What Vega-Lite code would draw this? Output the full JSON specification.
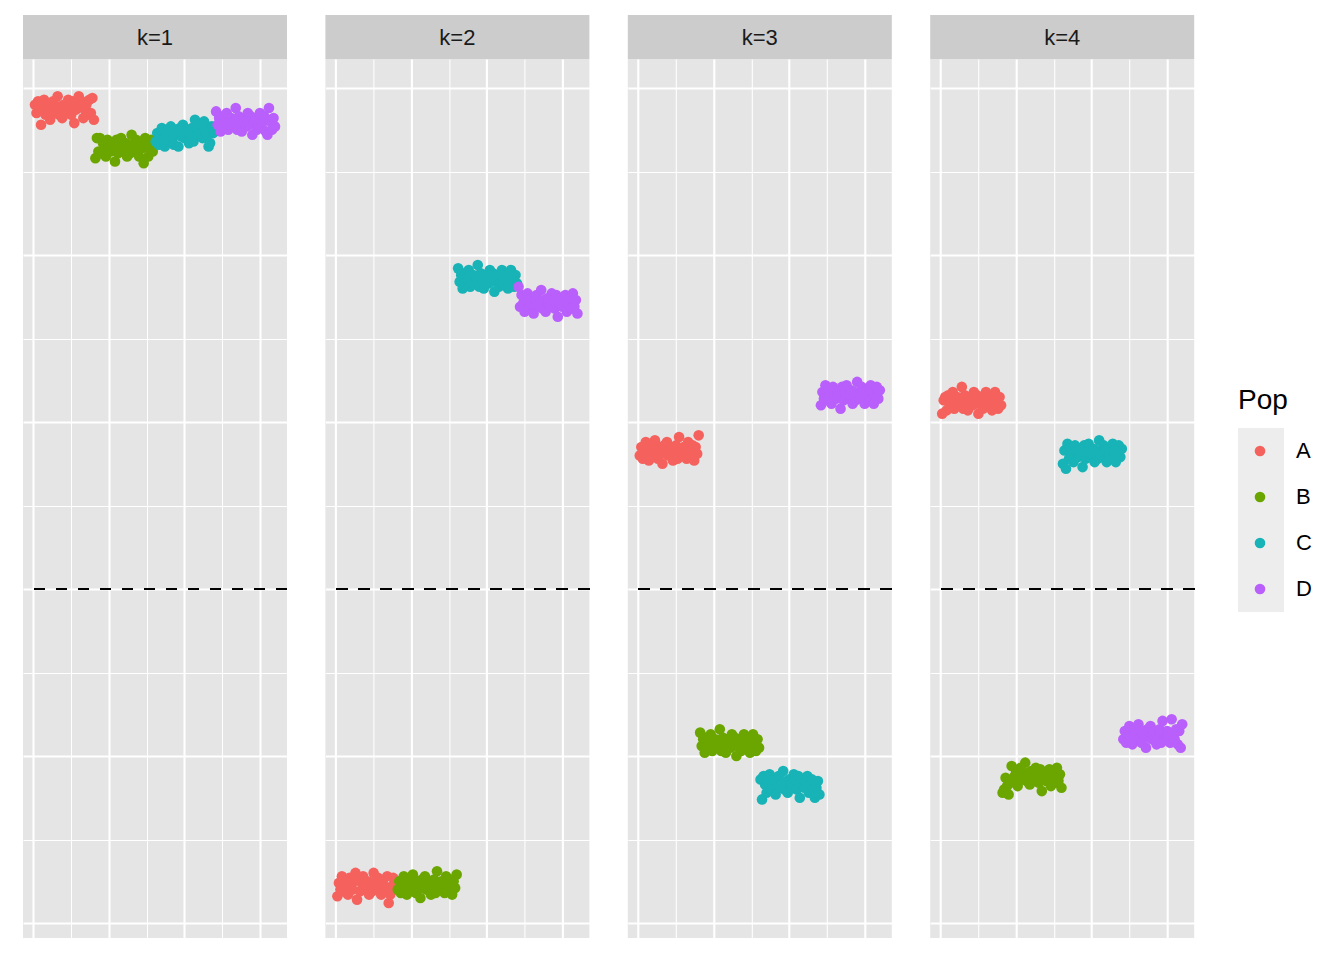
{
  "$schema": "https://vega.github.io/schema/vega-lite/v6.json",
  "padding": {"left": 21, "top": 15, "right": 0, "bottom": 0},
  "background": "white",
  "config": {
    "font": "Liberation Sans",
    "view": {"fill": "#E5E5E5", "stroke": null},
    "axis": {"labels": false, "ticks": false, "domain": false, "title": null, "gridColor": "white", "gridOpacity": 1}
  },
  "resolve": {"scale": {"color": "shared", "shape": "shared"}},
  "spacing": 0,
  "vconcat": [
    {
      "data": {"values": [{"k": "k=1"}, {"k": "k=2"}, {"k": "k=3"}, {"k": "k=4"}]},
      "facet": {"column": {"field": "k", "type": "nominal", "header": {"labels": false, "title": null}}},
      "spacing": {"column": 38.4},
      "bounds": "flush",
      "spec": {
        "width": 264,
        "height": 44,
        "view": {"fill": "#CCCCCC", "stroke": null},
        "mark": {"type": "text", "fontSize": 22, "color": "#1A1A1A", "dy": 1},
        "encoding": {"text": {"field": "k"}}
      }
    },
    {
      "data": {"values": [
{"k":"k=1","p":"A","i":1,"v":2.90},{"k":"k=1","p":"A","i":2,"v":2.85},{"k":"k=1","p":"A","i":3,"v":2.92},{"k":"k=1","p":"A","i":4,"v":2.87},{"k":"k=1","p":"A","i":5,"v":2.78},{"k":"k=1","p":"A","i":6,"v":2.89},{"k":"k=1","p":"A","i":7,"v":2.93},{"k":"k=1","p":"A","i":8,"v":2.84},{"k":"k=1","p":"A","i":9,"v":2.87},{"k":"k=1","p":"A","i":10,"v":2.90},
{"k":"k=1","p":"A","i":11,"v":2.81},{"k":"k=1","p":"A","i":12,"v":2.89},{"k":"k=1","p":"A","i":13,"v":2.92},{"k":"k=1","p":"A","i":14,"v":2.85},{"k":"k=1","p":"A","i":15,"v":2.87},{"k":"k=1","p":"A","i":16,"v":2.95},{"k":"k=1","p":"A","i":17,"v":2.84},{"k":"k=1","p":"A","i":18,"v":2.89},{"k":"k=1","p":"A","i":19,"v":2.82},{"k":"k=1","p":"A","i":20,"v":2.90},
{"k":"k=1","p":"A","i":21,"v":2.87},{"k":"k=1","p":"A","i":22,"v":2.85},{"k":"k=1","p":"A","i":23,"v":2.93},{"k":"k=1","p":"A","i":24,"v":2.89},{"k":"k=1","p":"A","i":25,"v":2.84},{"k":"k=1","p":"A","i":26,"v":2.92},{"k":"k=1","p":"A","i":27,"v":2.79},{"k":"k=1","p":"A","i":28,"v":2.87},{"k":"k=1","p":"A","i":29,"v":2.90},{"k":"k=1","p":"A","i":30,"v":2.95},
{"k":"k=1","p":"A","i":31,"v":2.89},{"k":"k=1","p":"A","i":32,"v":2.92},{"k":"k=1","p":"A","i":33,"v":2.82},{"k":"k=1","p":"A","i":34,"v":2.87},{"k":"k=1","p":"A","i":35,"v":2.90},{"k":"k=1","p":"A","i":36,"v":2.84},{"k":"k=1","p":"A","i":37,"v":2.93},{"k":"k=1","p":"A","i":38,"v":2.85},{"k":"k=1","p":"A","i":39,"v":2.94},{"k":"k=1","p":"A","i":40,"v":2.81},
{"k":"k=1","p":"B","i":41,"v":2.58},{"k":"k=1","p":"B","i":42,"v":2.70},{"k":"k=1","p":"B","i":43,"v":2.62},{"k":"k=1","p":"B","i":44,"v":2.70},{"k":"k=1","p":"B","i":45,"v":2.61},{"k":"k=1","p":"B","i":46,"v":2.67},{"k":"k=1","p":"B","i":47,"v":2.64},{"k":"k=1","p":"B","i":48,"v":2.59},{"k":"k=1","p":"B","i":49,"v":2.69},{"k":"k=1","p":"B","i":50,"v":2.66},
{"k":"k=1","p":"B","i":51,"v":2.62},{"k":"k=1","p":"B","i":52,"v":2.67},{"k":"k=1","p":"B","i":53,"v":2.64},{"k":"k=1","p":"B","i":54,"v":2.56},{"k":"k=1","p":"B","i":55,"v":2.69},{"k":"k=1","p":"B","i":56,"v":2.61},{"k":"k=1","p":"B","i":57,"v":2.66},{"k":"k=1","p":"B","i":58,"v":2.70},{"k":"k=1","p":"B","i":59,"v":2.62},{"k":"k=1","p":"B","i":60,"v":2.64},
{"k":"k=1","p":"B","i":61,"v":2.67},{"k":"k=1","p":"B","i":62,"v":2.59},{"k":"k=1","p":"B","i":63,"v":2.66},{"k":"k=1","p":"B","i":64,"v":2.61},{"k":"k=1","p":"B","i":65,"v":2.72},{"k":"k=1","p":"B","i":66,"v":2.64},{"k":"k=1","p":"B","i":67,"v":2.62},{"k":"k=1","p":"B","i":68,"v":2.69},{"k":"k=1","p":"B","i":69,"v":2.66},{"k":"k=1","p":"B","i":70,"v":2.59},
{"k":"k=1","p":"B","i":71,"v":2.67},{"k":"k=1","p":"B","i":72,"v":2.64},{"k":"k=1","p":"B","i":73,"v":2.55},{"k":"k=1","p":"B","i":74,"v":2.70},{"k":"k=1","p":"B","i":75,"v":2.66},{"k":"k=1","p":"B","i":76,"v":2.59},{"k":"k=1","p":"B","i":77,"v":2.64},{"k":"k=1","p":"B","i":78,"v":2.69},{"k":"k=1","p":"B","i":79,"v":2.62},{"k":"k=1","p":"B","i":80,"v":2.67},
{"k":"k=1","p":"C","i":81,"v":2.68},{"k":"k=1","p":"C","i":82,"v":2.73},{"k":"k=1","p":"C","i":83,"v":2.66},{"k":"k=1","p":"C","i":84,"v":2.71},{"k":"k=1","p":"C","i":85,"v":2.76},{"k":"k=1","p":"C","i":86,"v":2.69},{"k":"k=1","p":"C","i":87,"v":2.65},{"k":"k=1","p":"C","i":88,"v":2.74},{"k":"k=1","p":"C","i":89,"v":2.71},{"k":"k=1","p":"C","i":90,"v":2.68},
{"k":"k=1","p":"C","i":91,"v":2.77},{"k":"k=1","p":"C","i":92,"v":2.69},{"k":"k=1","p":"C","i":93,"v":2.66},{"k":"k=1","p":"C","i":94,"v":2.75},{"k":"k=1","p":"C","i":95,"v":2.73},{"k":"k=1","p":"C","i":96,"v":2.65},{"k":"k=1","p":"C","i":97,"v":2.76},{"k":"k=1","p":"C","i":98,"v":2.71},{"k":"k=1","p":"C","i":99,"v":2.78},{"k":"k=1","p":"C","i":100,"v":2.70},
{"k":"k=1","p":"C","i":101,"v":2.73},{"k":"k=1","p":"C","i":102,"v":2.75},{"k":"k=1","p":"C","i":103,"v":2.67},{"k":"k=1","p":"C","i":104,"v":2.71},{"k":"k=1","p":"C","i":105,"v":2.76},{"k":"k=1","p":"C","i":106,"v":2.68},{"k":"k=1","p":"C","i":107,"v":2.81},{"k":"k=1","p":"C","i":108,"v":2.75},{"k":"k=1","p":"C","i":109,"v":2.72},{"k":"k=1","p":"C","i":110,"v":2.77},
{"k":"k=1","p":"C","i":111,"v":2.73},{"k":"k=1","p":"C","i":112,"v":2.70},{"k":"k=1","p":"C","i":113,"v":2.80},{"k":"k=1","p":"C","i":114,"v":2.75},{"k":"k=1","p":"C","i":115,"v":2.72},{"k":"k=1","p":"C","i":116,"v":2.65},{"k":"k=1","p":"C","i":117,"v":2.67},{"k":"k=1","p":"C","i":118,"v":2.77},{"k":"k=1","p":"C","i":119,"v":2.73},{"k":"k=1","p":"C","i":120,"v":2.74},
{"k":"k=1","p":"D","i":121,"v":2.86},{"k":"k=1","p":"D","i":122,"v":2.78},{"k":"k=1","p":"D","i":123,"v":2.82},{"k":"k=1","p":"D","i":124,"v":2.74},{"k":"k=1","p":"D","i":125,"v":2.83},{"k":"k=1","p":"D","i":126,"v":2.77},{"k":"k=1","p":"D","i":127,"v":2.80},{"k":"k=1","p":"D","i":128,"v":2.85},{"k":"k=1","p":"D","i":129,"v":2.75},{"k":"k=1","p":"D","i":130,"v":2.78},
{"k":"k=1","p":"D","i":131,"v":2.82},{"k":"k=1","p":"D","i":132,"v":2.77},{"k":"k=1","p":"D","i":133,"v":2.80},{"k":"k=1","p":"D","i":134,"v":2.88},{"k":"k=1","p":"D","i":135,"v":2.75},{"k":"k=1","p":"D","i":136,"v":2.83},{"k":"k=1","p":"D","i":137,"v":2.78},{"k":"k=1","p":"D","i":138,"v":2.74},{"k":"k=1","p":"D","i":139,"v":2.82},{"k":"k=1","p":"D","i":140,"v":2.80},
{"k":"k=1","p":"D","i":141,"v":2.77},{"k":"k=1","p":"D","i":142,"v":2.85},{"k":"k=1","p":"D","i":143,"v":2.78},{"k":"k=1","p":"D","i":144,"v":2.83},{"k":"k=1","p":"D","i":145,"v":2.72},{"k":"k=1","p":"D","i":146,"v":2.80},{"k":"k=1","p":"D","i":147,"v":2.82},{"k":"k=1","p":"D","i":148,"v":2.75},{"k":"k=1","p":"D","i":149,"v":2.78},{"k":"k=1","p":"D","i":150,"v":2.85},
{"k":"k=1","p":"D","i":151,"v":2.77},{"k":"k=1","p":"D","i":152,"v":2.80},{"k":"k=1","p":"D","i":153,"v":2.83},{"k":"k=1","p":"D","i":154,"v":2.74},{"k":"k=1","p":"D","i":155,"v":2.72},{"k":"k=1","p":"D","i":156,"v":2.88},{"k":"k=1","p":"D","i":157,"v":2.80},{"k":"k=1","p":"D","i":158,"v":2.75},{"k":"k=1","p":"D","i":159,"v":2.82},{"k":"k=1","p":"D","i":160,"v":2.77},
{"k":"k=2","p":"A","i":1,"v":-1.84},{"k":"k=2","p":"A","i":2,"v":-1.76},{"k":"k=2","p":"A","i":3,"v":-1.80},{"k":"k=2","p":"A","i":4,"v":-1.72},{"k":"k=2","p":"A","i":5,"v":-1.81},{"k":"k=2","p":"A","i":6,"v":-1.75},{"k":"k=2","p":"A","i":7,"v":-1.78},{"k":"k=2","p":"A","i":8,"v":-1.83},{"k":"k=2","p":"A","i":9,"v":-1.73},{"k":"k=2","p":"A","i":10,"v":-1.76},
{"k":"k=2","p":"A","i":11,"v":-1.80},{"k":"k=2","p":"A","i":12,"v":-1.75},{"k":"k=2","p":"A","i":13,"v":-1.70},{"k":"k=2","p":"A","i":14,"v":-1.86},{"k":"k=2","p":"A","i":15,"v":-1.73},{"k":"k=2","p":"A","i":16,"v":-1.81},{"k":"k=2","p":"A","i":17,"v":-1.76},{"k":"k=2","p":"A","i":18,"v":-1.72},{"k":"k=2","p":"A","i":19,"v":-1.80},{"k":"k=2","p":"A","i":20,"v":-1.78},
{"k":"k=2","p":"A","i":21,"v":-1.75},{"k":"k=2","p":"A","i":22,"v":-1.83},{"k":"k=2","p":"A","i":23,"v":-1.76},{"k":"k=2","p":"A","i":24,"v":-1.81},{"k":"k=2","p":"A","i":25,"v":-1.70},{"k":"k=2","p":"A","i":26,"v":-1.78},{"k":"k=2","p":"A","i":27,"v":-1.80},{"k":"k=2","p":"A","i":28,"v":-1.73},{"k":"k=2","p":"A","i":29,"v":-1.76},{"k":"k=2","p":"A","i":30,"v":-1.83},
{"k":"k=2","p":"A","i":31,"v":-1.75},{"k":"k=2","p":"A","i":32,"v":-1.78},{"k":"k=2","p":"A","i":33,"v":-1.81},{"k":"k=2","p":"A","i":34,"v":-1.72},{"k":"k=2","p":"A","i":35,"v":-1.88},{"k":"k=2","p":"A","i":36,"v":-1.83},{"k":"k=2","p":"A","i":37,"v":-1.78},{"k":"k=2","p":"A","i":38,"v":-1.73},{"k":"k=2","p":"A","i":39,"v":-1.80},{"k":"k=2","p":"A","i":40,"v":-1.75},
{"k":"k=2","p":"B","i":41,"v":-1.80},{"k":"k=2","p":"B","i":42,"v":-1.75},{"k":"k=2","p":"B","i":43,"v":-1.82},{"k":"k=2","p":"B","i":44,"v":-1.77},{"k":"k=2","p":"B","i":45,"v":-1.72},{"k":"k=2","p":"B","i":46,"v":-1.79},{"k":"k=2","p":"B","i":47,"v":-1.83},{"k":"k=2","p":"B","i":48,"v":-1.74},{"k":"k=2","p":"B","i":49,"v":-1.77},{"k":"k=2","p":"B","i":50,"v":-1.80},
{"k":"k=2","p":"B","i":51,"v":-1.71},{"k":"k=2","p":"B","i":52,"v":-1.79},{"k":"k=2","p":"B","i":53,"v":-1.82},{"k":"k=2","p":"B","i":54,"v":-1.75},{"k":"k=2","p":"B","i":55,"v":-1.77},{"k":"k=2","p":"B","i":56,"v":-1.85},{"k":"k=2","p":"B","i":57,"v":-1.74},{"k":"k=2","p":"B","i":58,"v":-1.79},{"k":"k=2","p":"B","i":59,"v":-1.72},{"k":"k=2","p":"B","i":60,"v":-1.80},
{"k":"k=2","p":"B","i":61,"v":-1.77},{"k":"k=2","p":"B","i":62,"v":-1.75},{"k":"k=2","p":"B","i":63,"v":-1.83},{"k":"k=2","p":"B","i":64,"v":-1.79},{"k":"k=2","p":"B","i":65,"v":-1.74},{"k":"k=2","p":"B","i":66,"v":-1.82},{"k":"k=2","p":"B","i":67,"v":-1.69},{"k":"k=2","p":"B","i":68,"v":-1.77},{"k":"k=2","p":"B","i":69,"v":-1.80},{"k":"k=2","p":"B","i":70,"v":-1.75},
{"k":"k=2","p":"B","i":71,"v":-1.79},{"k":"k=2","p":"B","i":72,"v":-1.82},{"k":"k=2","p":"B","i":73,"v":-1.72},{"k":"k=2","p":"B","i":74,"v":-1.77},{"k":"k=2","p":"B","i":75,"v":-1.80},{"k":"k=2","p":"B","i":76,"v":-1.74},{"k":"k=2","p":"B","i":77,"v":-1.83},{"k":"k=2","p":"B","i":78,"v":-1.75},{"k":"k=2","p":"B","i":79,"v":-1.79},{"k":"k=2","p":"B","i":80,"v":-1.71},
{"k":"k=2","p":"C","i":81,"v":1.92},{"k":"k=2","p":"C","i":82,"v":1.84},{"k":"k=2","p":"C","i":83,"v":1.88},{"k":"k=2","p":"C","i":84,"v":1.80},{"k":"k=2","p":"C","i":85,"v":1.89},{"k":"k=2","p":"C","i":86,"v":1.83},{"k":"k=2","p":"C","i":87,"v":1.86},{"k":"k=2","p":"C","i":88,"v":1.91},{"k":"k=2","p":"C","i":89,"v":1.81},{"k":"k=2","p":"C","i":90,"v":1.84},
{"k":"k=2","p":"C","i":91,"v":1.88},{"k":"k=2","p":"C","i":92,"v":1.83},{"k":"k=2","p":"C","i":93,"v":1.86},{"k":"k=2","p":"C","i":94,"v":1.94},{"k":"k=2","p":"C","i":95,"v":1.81},{"k":"k=2","p":"C","i":96,"v":1.89},{"k":"k=2","p":"C","i":97,"v":1.84},{"k":"k=2","p":"C","i":98,"v":1.80},{"k":"k=2","p":"C","i":99,"v":1.88},{"k":"k=2","p":"C","i":100,"v":1.86},
{"k":"k=2","p":"C","i":101,"v":1.83},{"k":"k=2","p":"C","i":102,"v":1.91},{"k":"k=2","p":"C","i":103,"v":1.84},{"k":"k=2","p":"C","i":104,"v":1.89},{"k":"k=2","p":"C","i":105,"v":1.78},{"k":"k=2","p":"C","i":106,"v":1.86},{"k":"k=2","p":"C","i":107,"v":1.88},{"k":"k=2","p":"C","i":108,"v":1.81},{"k":"k=2","p":"C","i":109,"v":1.84},{"k":"k=2","p":"C","i":110,"v":1.91},
{"k":"k=2","p":"C","i":111,"v":1.83},{"k":"k=2","p":"C","i":112,"v":1.86},{"k":"k=2","p":"C","i":113,"v":1.89},{"k":"k=2","p":"C","i":114,"v":1.80},{"k":"k=2","p":"C","i":115,"v":1.84},{"k":"k=2","p":"C","i":116,"v":1.91},{"k":"k=2","p":"C","i":117,"v":1.86},{"k":"k=2","p":"C","i":118,"v":1.81},{"k":"k=2","p":"C","i":119,"v":1.88},{"k":"k=2","p":"C","i":120,"v":1.83},
{"k":"k=2","p":"D","i":121,"v":1.81},{"k":"k=2","p":"D","i":122,"v":1.69},{"k":"k=2","p":"D","i":123,"v":1.76},{"k":"k=2","p":"D","i":124,"v":1.71},{"k":"k=2","p":"D","i":125,"v":1.66},{"k":"k=2","p":"D","i":126,"v":1.73},{"k":"k=2","p":"D","i":127,"v":1.77},{"k":"k=2","p":"D","i":128,"v":1.68},{"k":"k=2","p":"D","i":129,"v":1.71},{"k":"k=2","p":"D","i":130,"v":1.74},
{"k":"k=2","p":"D","i":131,"v":1.65},{"k":"k=2","p":"D","i":132,"v":1.73},{"k":"k=2","p":"D","i":133,"v":1.76},{"k":"k=2","p":"D","i":134,"v":1.69},{"k":"k=2","p":"D","i":135,"v":1.71},{"k":"k=2","p":"D","i":136,"v":1.79},{"k":"k=2","p":"D","i":137,"v":1.68},{"k":"k=2","p":"D","i":138,"v":1.73},{"k":"k=2","p":"D","i":139,"v":1.66},{"k":"k=2","p":"D","i":140,"v":1.74},
{"k":"k=2","p":"D","i":141,"v":1.71},{"k":"k=2","p":"D","i":142,"v":1.69},{"k":"k=2","p":"D","i":143,"v":1.77},{"k":"k=2","p":"D","i":144,"v":1.73},{"k":"k=2","p":"D","i":145,"v":1.68},{"k":"k=2","p":"D","i":146,"v":1.76},{"k":"k=2","p":"D","i":147,"v":1.63},{"k":"k=2","p":"D","i":148,"v":1.71},{"k":"k=2","p":"D","i":149,"v":1.74},{"k":"k=2","p":"D","i":150,"v":1.69},
{"k":"k=2","p":"D","i":151,"v":1.73},{"k":"k=2","p":"D","i":152,"v":1.76},{"k":"k=2","p":"D","i":153,"v":1.66},{"k":"k=2","p":"D","i":154,"v":1.71},{"k":"k=2","p":"D","i":155,"v":1.74},{"k":"k=2","p":"D","i":156,"v":1.68},{"k":"k=2","p":"D","i":157,"v":1.77},{"k":"k=2","p":"D","i":158,"v":1.69},{"k":"k=2","p":"D","i":159,"v":1.73},{"k":"k=2","p":"D","i":160,"v":1.65},
{"k":"k=3","p":"A","i":1,"v":0.80},{"k":"k=3","p":"A","i":2,"v":0.85},{"k":"k=3","p":"A","i":3,"v":0.78},{"k":"k=3","p":"A","i":4,"v":0.83},{"k":"k=3","p":"A","i":5,"v":0.88},{"k":"k=3","p":"A","i":6,"v":0.81},{"k":"k=3","p":"A","i":7,"v":0.77},{"k":"k=3","p":"A","i":8,"v":0.86},{"k":"k=3","p":"A","i":9,"v":0.83},{"k":"k=3","p":"A","i":10,"v":0.80},
{"k":"k=3","p":"A","i":11,"v":0.89},{"k":"k=3","p":"A","i":12,"v":0.81},{"k":"k=3","p":"A","i":13,"v":0.78},{"k":"k=3","p":"A","i":14,"v":0.85},{"k":"k=3","p":"A","i":15,"v":0.83},{"k":"k=3","p":"A","i":16,"v":0.75},{"k":"k=3","p":"A","i":17,"v":0.86},{"k":"k=3","p":"A","i":18,"v":0.81},{"k":"k=3","p":"A","i":19,"v":0.88},{"k":"k=3","p":"A","i":20,"v":0.80},
{"k":"k=3","p":"A","i":21,"v":0.83},{"k":"k=3","p":"A","i":22,"v":0.85},{"k":"k=3","p":"A","i":23,"v":0.77},{"k":"k=3","p":"A","i":24,"v":0.81},{"k":"k=3","p":"A","i":25,"v":0.86},{"k":"k=3","p":"A","i":26,"v":0.78},{"k":"k=3","p":"A","i":27,"v":0.91},{"k":"k=3","p":"A","i":28,"v":0.83},{"k":"k=3","p":"A","i":29,"v":0.80},{"k":"k=3","p":"A","i":30,"v":0.85},
{"k":"k=3","p":"A","i":31,"v":0.81},{"k":"k=3","p":"A","i":32,"v":0.78},{"k":"k=3","p":"A","i":33,"v":0.88},{"k":"k=3","p":"A","i":34,"v":0.83},{"k":"k=3","p":"A","i":35,"v":0.80},{"k":"k=3","p":"A","i":36,"v":0.86},{"k":"k=3","p":"A","i":37,"v":0.77},{"k":"k=3","p":"A","i":38,"v":0.85},{"k":"k=3","p":"A","i":39,"v":0.81},{"k":"k=3","p":"A","i":40,"v":0.92},
{"k":"k=3","p":"B","i":41,"v":-0.86},{"k":"k=3","p":"B","i":42,"v":-0.94},{"k":"k=3","p":"B","i":43,"v":-0.90},{"k":"k=3","p":"B","i":44,"v":-0.98},{"k":"k=3","p":"B","i":45,"v":-0.89},{"k":"k=3","p":"B","i":46,"v":-0.95},{"k":"k=3","p":"B","i":47,"v":-0.92},{"k":"k=3","p":"B","i":48,"v":-0.87},{"k":"k=3","p":"B","i":49,"v":-0.97},{"k":"k=3","p":"B","i":50,"v":-0.94},
{"k":"k=3","p":"B","i":51,"v":-0.90},{"k":"k=3","p":"B","i":52,"v":-0.95},{"k":"k=3","p":"B","i":53,"v":-0.92},{"k":"k=3","p":"B","i":54,"v":-0.84},{"k":"k=3","p":"B","i":55,"v":-0.97},{"k":"k=3","p":"B","i":56,"v":-0.89},{"k":"k=3","p":"B","i":57,"v":-0.94},{"k":"k=3","p":"B","i":58,"v":-0.98},{"k":"k=3","p":"B","i":59,"v":-0.90},{"k":"k=3","p":"B","i":60,"v":-0.92},
{"k":"k=3","p":"B","i":61,"v":-0.95},{"k":"k=3","p":"B","i":62,"v":-0.87},{"k":"k=3","p":"B","i":63,"v":-0.94},{"k":"k=3","p":"B","i":64,"v":-0.89},{"k":"k=3","p":"B","i":65,"v":-1.00},{"k":"k=3","p":"B","i":66,"v":-0.92},{"k":"k=3","p":"B","i":67,"v":-0.90},{"k":"k=3","p":"B","i":68,"v":-0.97},{"k":"k=3","p":"B","i":69,"v":-0.94},{"k":"k=3","p":"B","i":70,"v":-0.87},
{"k":"k=3","p":"B","i":71,"v":-0.95},{"k":"k=3","p":"B","i":72,"v":-0.92},{"k":"k=3","p":"B","i":73,"v":-0.89},{"k":"k=3","p":"B","i":74,"v":-0.98},{"k":"k=3","p":"B","i":75,"v":-0.94},{"k":"k=3","p":"B","i":76,"v":-0.87},{"k":"k=3","p":"B","i":77,"v":-0.92},{"k":"k=3","p":"B","i":78,"v":-0.97},{"k":"k=3","p":"B","i":79,"v":-0.90},{"k":"k=3","p":"B","i":80,"v":-0.95},
{"k":"k=3","p":"C","i":81,"v":-1.14},{"k":"k=3","p":"C","i":82,"v":-1.26},{"k":"k=3","p":"C","i":83,"v":-1.12},{"k":"k=3","p":"C","i":84,"v":-1.17},{"k":"k=3","p":"C","i":85,"v":-1.22},{"k":"k=3","p":"C","i":86,"v":-1.15},{"k":"k=3","p":"C","i":87,"v":-1.11},{"k":"k=3","p":"C","i":88,"v":-1.20},{"k":"k=3","p":"C","i":89,"v":-1.17},{"k":"k=3","p":"C","i":90,"v":-1.14},
{"k":"k=3","p":"C","i":91,"v":-1.23},{"k":"k=3","p":"C","i":92,"v":-1.15},{"k":"k=3","p":"C","i":93,"v":-1.12},{"k":"k=3","p":"C","i":94,"v":-1.19},{"k":"k=3","p":"C","i":95,"v":-1.17},{"k":"k=3","p":"C","i":96,"v":-1.09},{"k":"k=3","p":"C","i":97,"v":-1.20},{"k":"k=3","p":"C","i":98,"v":-1.15},{"k":"k=3","p":"C","i":99,"v":-1.22},{"k":"k=3","p":"C","i":100,"v":-1.14},
{"k":"k=3","p":"C","i":101,"v":-1.17},{"k":"k=3","p":"C","i":102,"v":-1.19},{"k":"k=3","p":"C","i":103,"v":-1.11},{"k":"k=3","p":"C","i":104,"v":-1.15},{"k":"k=3","p":"C","i":105,"v":-1.20},{"k":"k=3","p":"C","i":106,"v":-1.12},{"k":"k=3","p":"C","i":107,"v":-1.25},{"k":"k=3","p":"C","i":108,"v":-1.17},{"k":"k=3","p":"C","i":109,"v":-1.14},{"k":"k=3","p":"C","i":110,"v":-1.19},
{"k":"k=3","p":"C","i":111,"v":-1.15},{"k":"k=3","p":"C","i":112,"v":-1.12},{"k":"k=3","p":"C","i":113,"v":-1.22},{"k":"k=3","p":"C","i":114,"v":-1.17},{"k":"k=3","p":"C","i":115,"v":-1.14},{"k":"k=3","p":"C","i":116,"v":-1.20},{"k":"k=3","p":"C","i":117,"v":-1.25},{"k":"k=3","p":"C","i":118,"v":-1.19},{"k":"k=3","p":"C","i":119,"v":-1.15},{"k":"k=3","p":"C","i":120,"v":-1.23},
{"k":"k=3","p":"D","i":121,"v":1.10},{"k":"k=3","p":"D","i":122,"v":1.18},{"k":"k=3","p":"D","i":123,"v":1.14},{"k":"k=3","p":"D","i":124,"v":1.22},{"k":"k=3","p":"D","i":125,"v":1.13},{"k":"k=3","p":"D","i":126,"v":1.19},{"k":"k=3","p":"D","i":127,"v":1.16},{"k":"k=3","p":"D","i":128,"v":1.11},{"k":"k=3","p":"D","i":129,"v":1.21},{"k":"k=3","p":"D","i":130,"v":1.18},
{"k":"k=3","p":"D","i":131,"v":1.14},{"k":"k=3","p":"D","i":132,"v":1.19},{"k":"k=3","p":"D","i":133,"v":1.16},{"k":"k=3","p":"D","i":134,"v":1.08},{"k":"k=3","p":"D","i":135,"v":1.21},{"k":"k=3","p":"D","i":136,"v":1.13},{"k":"k=3","p":"D","i":137,"v":1.18},{"k":"k=3","p":"D","i":138,"v":1.22},{"k":"k=3","p":"D","i":139,"v":1.14},{"k":"k=3","p":"D","i":140,"v":1.16},
{"k":"k=3","p":"D","i":141,"v":1.19},{"k":"k=3","p":"D","i":142,"v":1.11},{"k":"k=3","p":"D","i":143,"v":1.18},{"k":"k=3","p":"D","i":144,"v":1.13},{"k":"k=3","p":"D","i":145,"v":1.24},{"k":"k=3","p":"D","i":146,"v":1.16},{"k":"k=3","p":"D","i":147,"v":1.14},{"k":"k=3","p":"D","i":148,"v":1.21},{"k":"k=3","p":"D","i":149,"v":1.18},{"k":"k=3","p":"D","i":150,"v":1.11},
{"k":"k=3","p":"D","i":151,"v":1.19},{"k":"k=3","p":"D","i":152,"v":1.16},{"k":"k=3","p":"D","i":153,"v":1.13},{"k":"k=3","p":"D","i":154,"v":1.22},{"k":"k=3","p":"D","i":155,"v":1.18},{"k":"k=3","p":"D","i":156,"v":1.11},{"k":"k=3","p":"D","i":157,"v":1.16},{"k":"k=3","p":"D","i":158,"v":1.21},{"k":"k=3","p":"D","i":159,"v":1.14},{"k":"k=3","p":"D","i":160,"v":1.19},
{"k":"k=4","p":"A","i":1,"v":1.05},{"k":"k=4","p":"A","i":2,"v":1.13},{"k":"k=4","p":"A","i":3,"v":1.15},{"k":"k=4","p":"A","i":4,"v":1.07},{"k":"k=4","p":"A","i":5,"v":1.16},{"k":"k=4","p":"A","i":6,"v":1.10},{"k":"k=4","p":"A","i":7,"v":1.13},{"k":"k=4","p":"A","i":8,"v":1.18},{"k":"k=4","p":"A","i":9,"v":1.08},{"k":"k=4","p":"A","i":10,"v":1.11},
{"k":"k=4","p":"A","i":11,"v":1.15},{"k":"k=4","p":"A","i":12,"v":1.10},{"k":"k=4","p":"A","i":13,"v":1.13},{"k":"k=4","p":"A","i":14,"v":1.21},{"k":"k=4","p":"A","i":15,"v":1.08},{"k":"k=4","p":"A","i":16,"v":1.16},{"k":"k=4","p":"A","i":17,"v":1.11},{"k":"k=4","p":"A","i":18,"v":1.07},{"k":"k=4","p":"A","i":19,"v":1.15},{"k":"k=4","p":"A","i":20,"v":1.13},
{"k":"k=4","p":"A","i":21,"v":1.10},{"k":"k=4","p":"A","i":22,"v":1.18},{"k":"k=4","p":"A","i":23,"v":1.11},{"k":"k=4","p":"A","i":24,"v":1.16},{"k":"k=4","p":"A","i":25,"v":1.05},{"k":"k=4","p":"A","i":26,"v":1.13},{"k":"k=4","p":"A","i":27,"v":1.15},{"k":"k=4","p":"A","i":28,"v":1.08},{"k":"k=4","p":"A","i":29,"v":1.11},{"k":"k=4","p":"A","i":30,"v":1.18},
{"k":"k=4","p":"A","i":31,"v":1.10},{"k":"k=4","p":"A","i":32,"v":1.13},{"k":"k=4","p":"A","i":33,"v":1.16},{"k":"k=4","p":"A","i":34,"v":1.07},{"k":"k=4","p":"A","i":35,"v":1.11},{"k":"k=4","p":"A","i":36,"v":1.18},{"k":"k=4","p":"A","i":37,"v":1.13},{"k":"k=4","p":"A","i":38,"v":1.08},{"k":"k=4","p":"A","i":39,"v":1.15},{"k":"k=4","p":"A","i":40,"v":1.10},
{"k":"k=4","p":"B","i":41,"v":-1.22},{"k":"k=4","p":"B","i":42,"v":-1.20},{"k":"k=4","p":"B","i":43,"v":-1.13},{"k":"k=4","p":"B","i":44,"v":-1.18},{"k":"k=4","p":"B","i":45,"v":-1.23},{"k":"k=4","p":"B","i":46,"v":-1.16},{"k":"k=4","p":"B","i":47,"v":-1.06},{"k":"k=4","p":"B","i":48,"v":-1.15},{"k":"k=4","p":"B","i":49,"v":-1.12},{"k":"k=4","p":"B","i":50,"v":-1.09},
{"k":"k=4","p":"B","i":51,"v":-1.18},{"k":"k=4","p":"B","i":52,"v":-1.10},{"k":"k=4","p":"B","i":53,"v":-1.07},{"k":"k=4","p":"B","i":54,"v":-1.14},{"k":"k=4","p":"B","i":55,"v":-1.12},{"k":"k=4","p":"B","i":56,"v":-1.04},{"k":"k=4","p":"B","i":57,"v":-1.15},{"k":"k=4","p":"B","i":58,"v":-1.10},{"k":"k=4","p":"B","i":59,"v":-1.17},{"k":"k=4","p":"B","i":60,"v":-1.09},
{"k":"k=4","p":"B","i":61,"v":-1.13},{"k":"k=4","p":"B","i":62,"v":-1.15},{"k":"k=4","p":"B","i":63,"v":-1.07},{"k":"k=4","p":"B","i":64,"v":-1.11},{"k":"k=4","p":"B","i":65,"v":-1.16},{"k":"k=4","p":"B","i":66,"v":-1.08},{"k":"k=4","p":"B","i":67,"v":-1.21},{"k":"k=4","p":"B","i":68,"v":-1.13},{"k":"k=4","p":"B","i":69,"v":-1.10},{"k":"k=4","p":"B","i":70,"v":-1.15},
{"k":"k=4","p":"B","i":71,"v":-1.11},{"k":"k=4","p":"B","i":72,"v":-1.08},{"k":"k=4","p":"B","i":73,"v":-1.18},{"k":"k=4","p":"B","i":74,"v":-1.13},{"k":"k=4","p":"B","i":75,"v":-1.10},{"k":"k=4","p":"B","i":76,"v":-1.16},{"k":"k=4","p":"B","i":77,"v":-1.07},{"k":"k=4","p":"B","i":78,"v":-1.15},{"k":"k=4","p":"B","i":79,"v":-1.11},{"k":"k=4","p":"B","i":80,"v":-1.19},
{"k":"k=4","p":"C","i":81,"v":0.75},{"k":"k=4","p":"C","i":82,"v":0.83},{"k":"k=4","p":"C","i":83,"v":0.72},{"k":"k=4","p":"C","i":84,"v":0.87},{"k":"k=4","p":"C","i":85,"v":0.78},{"k":"k=4","p":"C","i":86,"v":0.84},{"k":"k=4","p":"C","i":87,"v":0.81},{"k":"k=4","p":"C","i":88,"v":0.76},{"k":"k=4","p":"C","i":89,"v":0.86},{"k":"k=4","p":"C","i":90,"v":0.83},
{"k":"k=4","p":"C","i":91,"v":0.79},{"k":"k=4","p":"C","i":92,"v":0.84},{"k":"k=4","p":"C","i":93,"v":0.81},{"k":"k=4","p":"C","i":94,"v":0.73},{"k":"k=4","p":"C","i":95,"v":0.86},{"k":"k=4","p":"C","i":96,"v":0.78},{"k":"k=4","p":"C","i":97,"v":0.83},{"k":"k=4","p":"C","i":98,"v":0.87},{"k":"k=4","p":"C","i":99,"v":0.79},{"k":"k=4","p":"C","i":100,"v":0.81},
{"k":"k=4","p":"C","i":101,"v":0.84},{"k":"k=4","p":"C","i":102,"v":0.76},{"k":"k=4","p":"C","i":103,"v":0.83},{"k":"k=4","p":"C","i":104,"v":0.78},{"k":"k=4","p":"C","i":105,"v":0.89},{"k":"k=4","p":"C","i":106,"v":0.81},{"k":"k=4","p":"C","i":107,"v":0.79},{"k":"k=4","p":"C","i":108,"v":0.86},{"k":"k=4","p":"C","i":109,"v":0.83},{"k":"k=4","p":"C","i":110,"v":0.76},
{"k":"k=4","p":"C","i":111,"v":0.84},{"k":"k=4","p":"C","i":112,"v":0.81},{"k":"k=4","p":"C","i":113,"v":0.78},{"k":"k=4","p":"C","i":114,"v":0.87},{"k":"k=4","p":"C","i":115,"v":0.83},{"k":"k=4","p":"C","i":116,"v":0.76},{"k":"k=4","p":"C","i":117,"v":0.81},{"k":"k=4","p":"C","i":118,"v":0.86},{"k":"k=4","p":"C","i":119,"v":0.79},{"k":"k=4","p":"C","i":120,"v":0.84},
{"k":"k=4","p":"D","i":121,"v":-0.90},{"k":"k=4","p":"D","i":122,"v":-0.85},{"k":"k=4","p":"D","i":123,"v":-0.92},{"k":"k=4","p":"D","i":124,"v":-0.87},{"k":"k=4","p":"D","i":125,"v":-0.82},{"k":"k=4","p":"D","i":126,"v":-0.89},{"k":"k=4","p":"D","i":127,"v":-0.93},{"k":"k=4","p":"D","i":128,"v":-0.84},{"k":"k=4","p":"D","i":129,"v":-0.87},{"k":"k=4","p":"D","i":130,"v":-0.90},
{"k":"k=4","p":"D","i":131,"v":-0.81},{"k":"k=4","p":"D","i":132,"v":-0.89},{"k":"k=4","p":"D","i":133,"v":-0.92},{"k":"k=4","p":"D","i":134,"v":-0.85},{"k":"k=4","p":"D","i":135,"v":-0.87},{"k":"k=4","p":"D","i":136,"v":-0.95},{"k":"k=4","p":"D","i":137,"v":-0.84},{"k":"k=4","p":"D","i":138,"v":-0.89},{"k":"k=4","p":"D","i":139,"v":-0.82},{"k":"k=4","p":"D","i":140,"v":-0.90},
{"k":"k=4","p":"D","i":141,"v":-0.87},{"k":"k=4","p":"D","i":142,"v":-0.85},{"k":"k=4","p":"D","i":143,"v":-0.93},{"k":"k=4","p":"D","i":144,"v":-0.89},{"k":"k=4","p":"D","i":145,"v":-0.84},{"k":"k=4","p":"D","i":146,"v":-0.92},{"k":"k=4","p":"D","i":147,"v":-0.79},{"k":"k=4","p":"D","i":148,"v":-0.87},{"k":"k=4","p":"D","i":149,"v":-0.90},{"k":"k=4","p":"D","i":150,"v":-0.85},
{"k":"k=4","p":"D","i":151,"v":-0.89},{"k":"k=4","p":"D","i":152,"v":-0.92},{"k":"k=4","p":"D","i":153,"v":-0.78},{"k":"k=4","p":"D","i":154,"v":-0.87},{"k":"k=4","p":"D","i":155,"v":-0.90},{"k":"k=4","p":"D","i":156,"v":-0.84},{"k":"k=4","p":"D","i":157,"v":-0.93},{"k":"k=4","p":"D","i":158,"v":-0.85},{"k":"k=4","p":"D","i":159,"v":-0.95},{"k":"k=4","p":"D","i":160,"v":-0.81}
      ]},
      "facet": {"column": {"field": "k", "type": "nominal", "header": {"labels": false, "title": null}}},
      "spacing": {"column": 38.4},
      "bounds": "flush",
      "spec": {
        "width": 264,
        "height": 879,
        "resolve": {"axis": {"x": "independent", "y": "independent"}},
        "layer": [
          {
            "transform": [{"filter": "false"}],
            "mark": {"type": "point", "filled": true, "color": "#E5E5E5"},
            "encoding": {
              "x": {"field": "i", "type": "quantitative", "scale": {"domain": [-6.95, 167.95], "nice": false, "zero": false}, "axis": {"values": [25, 75, 125], "grid": true, "gridWidth": 1.05, "orient": "bottom"}},
              "y": {"field": "v", "type": "quantitative", "scale": {"domain": [-2.0898, 3.1737], "nice": false, "zero": false}, "axis": {"values": [-1.5, -0.5, 0.5, 1.5, 2.5], "grid": true, "gridWidth": 1.05, "orient": "left"}},
              "shape": {
                "field": "p", "type": "nominal",
                "scale": {"domain": ["A", "B", "C", "D"], "range": ["square", "square", "square", "square"]},
                "legend": {"orient": "none", "legendX": 1215, "legendY": 372, "title": "Pop", "titleFontSize": 28, "titleFontWeight": "normal", "titleColor": "black", "titlePadding": 13, "symbolType": "square", "symbolSize": 2116, "symbolFillColor": "#E5E5E5", "symbolStrokeWidth": 0, "labelExpr": "''", "labelFontSize": 22, "clipHeight": 46, "rowPadding": 0, "padding": 0, "zindex": 0}
              }
            }
          },
          {
            "mark": {"type": "circle", "size": 113, "opacity": 1},
            "encoding": {
              "x": {"field": "i", "type": "quantitative", "scale": {"domain": [-6.95, 167.95], "nice": false, "zero": false}, "axis": {"values": [0, 50, 100, 150], "grid": true, "gridWidth": 2.1, "orient": "bottom"}},
              "y": {"field": "v", "type": "quantitative", "scale": {"domain": [-2.0898, 3.1737], "nice": false, "zero": false}, "axis": {"values": [-2, -1, 0, 1, 2, 3], "grid": true, "gridWidth": 2.1, "orient": "left"}},
              "color": {
                "field": "p", "type": "nominal",
                "scale": {"range": ["#F5625D", "#6BA600", "#17B3B7", "#B95FFB"]},
                "legend": {"orient": "none", "legendX": 1226, "legendY": 413, "title": null, "symbolType": "circle", "symbolSize": 113, "symbolStrokeWidth": 0, "labelFontSize": 22, "labelColor": "black", "labelOffset": 25, "clipHeight": 46, "rowPadding": 0, "padding": 0, "zindex": 1}
              }
            }
          },
          {
            "mark": {"type": "rule", "color": "black", "strokeDash": [11, 11], "strokeWidth": 2.1},
            "encoding": {"y": {"datum": 0, "type": "quantitative", "axis": null}}
          }
        ]
      }
    }
  ]
}
